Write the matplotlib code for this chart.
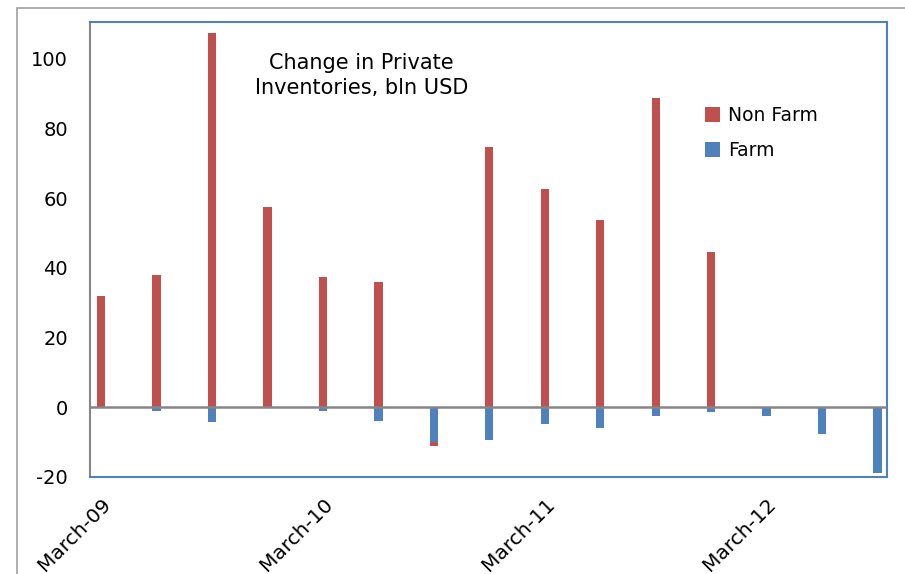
import numpy as np
import matplotlib.pyplot as plt
from matplotlib.patches import Rectangle

plt.rcParams["axes.unicode_minus"] = False

# quarterly change in private inventories, bln USD (Q1 2009 .. Q3 2012)
quarters = np.arange(15)
non_farm = [31.9, 37.9, 107.3, 57.3, 37.3, 35.9, -11.2, 74.7, 62.7, 53.6,
            88.8, 44.4, 0, 0, 0]
farm = [0, -1.0, -4.3, 0, -1.0, -3.9, -10.1, -9.3, -4.9, -5.9,
        -2.4, -1.4, -2.4, -7.8, -18.9]
tick_pos = [0, 4, 8, 12]
tick_labels = ["March-09", "March-10", "March-11", "March-12"]

red = "#C0504D"
blue = "#4F81BD"
grey = "#868686"

fig = plt.figure(figsize=(9.05, 5.74), dpi=100)
# outer chart frame
fig.patches.append(Rectangle((17 / 905, -0.1), 1.0, 1.1 - 8 / 574,
                             transform=fig.transFigure, fill=False,
                             edgecolor="#A0A0A0", linewidth=1.2))

ax = fig.add_axes([90 / 905, 1 - 477 / 574, 797 / 905, 455 / 574])

ax.bar(quarters, non_farm, width=0.15, color=red, label="Non Farm", zorder=2)
ax.bar(quarters, farm, width=0.15, color=blue, label="Farm", zorder=3)

ax.set_xlim(-0.2, 14.17)
ax.set_ylim(-20, 110.5)
ax.set_yticks([-20, 0, 20, 40, 60, 80, 100])
ax.axhline(0, color=grey, linewidth=1.8, zorder=4)

ax.set_xticks(tick_pos)
ax.set_xticklabels(tick_labels, rotation=45, ha="right",
                   rotation_mode="anchor", fontsize=14.5)
ax.tick_params(axis="x", length=0, pad=13)
ax.tick_params(axis="y", length=0, labelsize=14, pad=16)

for side in ["top", "right", "bottom"]:
    ax.spines[side].set_color(blue)
    ax.spines[side].set_linewidth(1.5)
ax.spines["left"].set_color(grey)
ax.spines["left"].set_linewidth(1.5)

ax.text(0.341, 0.882, "Change in Private\nInventories, bln USD",
        transform=ax.transAxes, ha="center", va="center", fontsize=15,
        linespacing=1.35)

ax.legend(loc="upper left", bbox_to_anchor=(0.772, 0.815), frameon=False,
          fontsize=13.5, handlelength=0.8, handleheight=0.8,
          handletextpad=0.4, labelspacing=0.85, borderpad=0,
          borderaxespad=0)

fig.savefig("out.png", dpi=100)
